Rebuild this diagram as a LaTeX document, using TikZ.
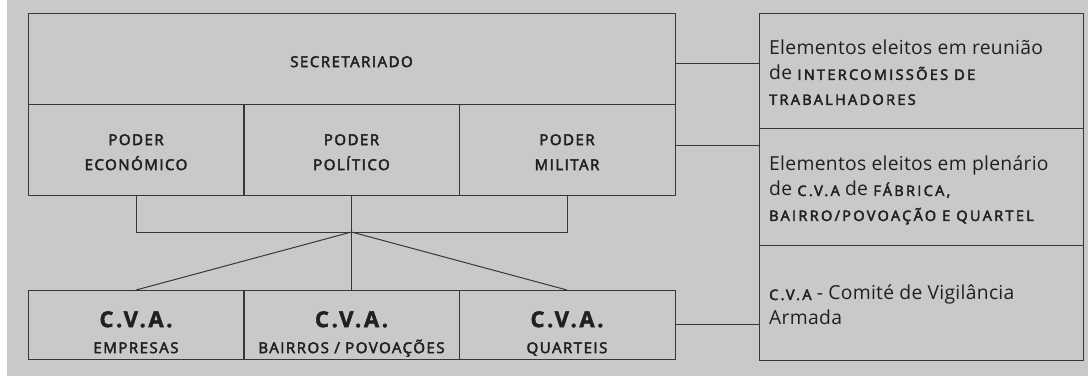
\documentclass[tikz,border=0pt]{standalone}
\usepackage{fontspec}
\setmainfont[LetterSpace=1.5]{Open Sans}
\newfontfamily\labelfont[LetterSpace=10, FakeBold=3]{Open Sans}
\usetikzlibrary{positioning}
\definecolor{panel}{RGB}{200, 201, 203}
\definecolor{ink}{RGB}{35, 31, 32}
\definecolor{rule}{RGB}{55, 55, 55}
\newcommand{\smc}[1]{{\labelfont\fontsize{14.5}{25}\selectfont\addfontfeature{LetterSpace=16}#1}}
\newcommand{\cvatitle}{{\bfseries\fontsize{22}{26}\selectfont\addfontfeature{FakeBold=2, LetterSpace=12}C.V.A.}}

\begin{document}
\begin{tikzpicture}[x=1pt, y=-1pt,
  box/.style={draw=rule, line width=1pt, minimum width=216pt, minimum height=91pt,
    inner sep=0pt, outer sep=0pt},
  lab/.style={inner sep=0pt, align=center, text=ink,
    font=\labelfont\fontsize{15}{25}\selectfont},
  note/.style={draw=rule, line width=1pt, minimum width=324pt, inner sep=0pt, outer sep=0pt},
  notetext/.style={inner sep=0pt, align=left, text=ink,
    font=\fontsize{19.3}{25}\selectfont},
  wire/.style={draw=rule, line width=1pt}]

\useasboundingbox (0, 0) rectangle (1088, 376);
\fill[panel] (7, 0) rectangle (1088, 376);

% structure
\node[box, minimum width=647pt] (sec) at (351.5, 58.5) {};
\node[box] (pe) at (136, 149.5) {};
\node[box] (pp) at (351.5, 149.5) {};
\node[box] (pm) at (567, 149.5) {};
\node[box, minimum height=69pt] (ce) at (136, 324.5) {};
\node[box, minimum height=69pt] (cb) at (351.5, 324.5) {};
\node[box, minimum height=69pt] (cq) at (567, 324.5) {};

\node[lab, below=43pt of sec.north] (seclab) {SECRETARIADO};
\node[lab, below=30pt of pe.north] (pelab) {PODER\\ECONÓMICO};
\node[lab, below=30pt of pp.north] (pplab) {PODER\\POLÍTICO};
\node[lab, below=30pt of pm.north] (pmlab) {PODER\\MILITAR};
\node[lab, below=21pt of ce.north] (celab) {\cvatitle\\[1pt]EMPRESAS};
\node[lab, below=21pt of cb.north] (cblab) {\cvatitle\\[1pt]BAIRROS / POVOAÇÕES};
\node[lab, below=21pt of cq.north] (cqlab) {\cvatitle\\[1pt]QUARTEIS};

% notes
\node[note, minimum height=115pt] (n1) at (921, 70.5) {};
\node[note, minimum height=117pt] (n2) at (921, 186.5) {};
\node[note, minimum height=115pt] (n3) at (921, 302.5) {};

\node[notetext, below right=27pt and 10pt of n1.north west] (n1txt)
  {Elementos eleitos em reunião\\de \smc{INTERCOMISSÕES DE}\\\smc{TRABALHADORES}};
\node[notetext, below right=28pt and 10pt of n2.north west] (n2txt)
  {Elementos eleitos em plenário\\de \smc{C.V.A} de \smc{FÁBRICA,}\\\smc{BAIRRO/POVOAÇÃO E QUARTEL}};
\node[notetext, below right=40pt and 10pt of n3.north west] (n3txt)
  {\smc{C.V.A} - Comité de Vigilância\\Armada};

% bracket and links
\coordinate (hub) at (pp.south |- 0, 232);
\draw[wire] (pe.south) -- (pe.south |- hub) -- (pm.south |- hub) -- (pm.south);
\draw[wire] (pp.south) -- (hub);
\foreach \c in {ce, cb, cq}
  \draw[wire] (hub) -- (\c.north);

\coordinate (s1) at ([yshift=-4.5pt]sec.east);
\coordinate (s2) at ([yshift=4.5pt]pm.east);
\draw[wire] (s1) -- (s1 -| n1.west);
\draw[wire] (s2) -- (s2 -| n2.west);
\draw[wire] (cq.east) -- (cq.east -| n3.west);

\end{tikzpicture}
\end{document}
